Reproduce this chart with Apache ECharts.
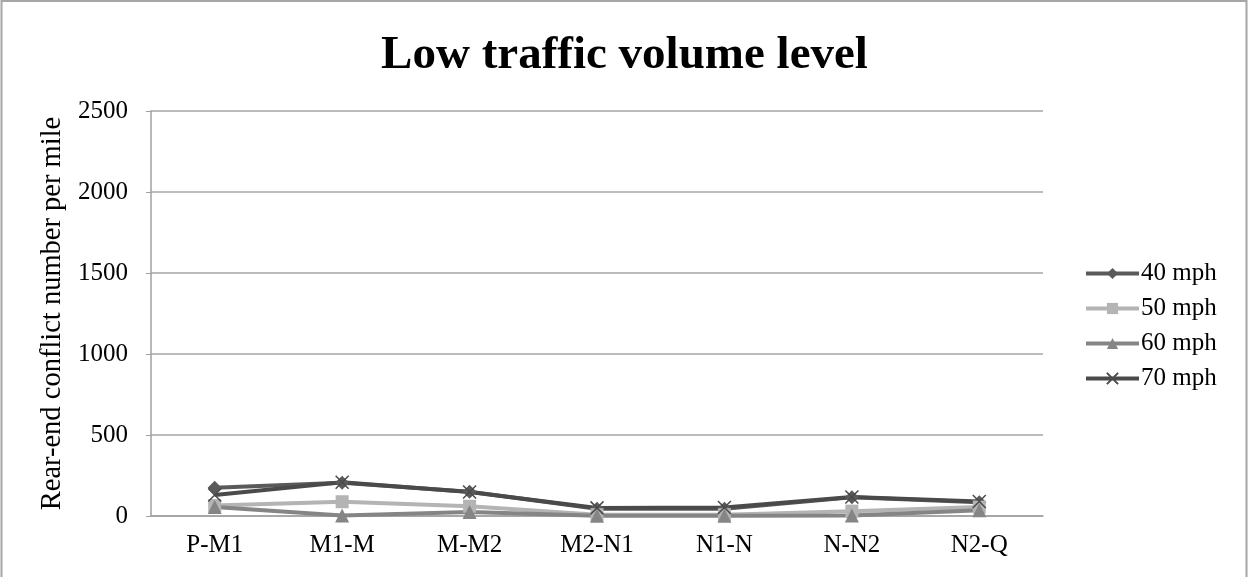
<!DOCTYPE html>
<html>
<head>
<meta charset="utf-8">
<script src="https://cdn.jsdelivr.net/npm/echarts@6/dist/echarts.min.js"></script>
<style>
  html, body { margin: 0; padding: 0; background: #fff; }
  #chart { width: 1249px; height: 577px; }
</style>
</head>
<body>
<div id="chart"></div>
<script>
// Road segments along the corridor
const segments = ['P-M1', 'M1-M', 'M-M2', 'M2-N1', 'N1-N', 'N-N2', 'N2-Q'];

// Rear-end conflicts per mile, by speed limit
const mph40 = [175, 205, 150, 45, 45, 115, 85];
const mph50 = [65, 88, 60, 8, 8, 30, 55];
const mph60 = [55, 3, 25, 2, 2, 3, 35];
const mph70 = [130, 208, 148, 50, 52, 117, 90];

const yTicks = [0, 500, 1000, 1500, 2000, 2500];

const serif = '"Liberation Serif", "Times New Roman", serif';

function line(name, data, color, symbol, size, extra) {
  return Object.assign({
    name: name,
    type: 'line',
    data: data,
    symbol: symbol,
    symbolSize: size,
    showSymbol: true,
    lineStyle: { color: color, width: 4 },
    itemStyle: { color: color },
    emphasis: { disabled: true },
    animation: false
  }, extra || {});
}

const chart = echarts.init(document.getElementById('chart'), null, { renderer: 'canvas' });
chart.setOption({
  backgroundColor: '#fff',
  title: {
    text: 'Low traffic volume level',
    left: 'center',
    top: 27,
    textStyle: { fontFamily: serif, fontSize: 47, fontWeight: 'bold', color: '#000' }
  },
  graphic: [{
    type: 'rect',
    shape: { x: 1.5, y: 1, width: 1245, height: 580 },
    style: { fill: 'none', stroke: '#a6a6a6', lineWidth: 2 },
    silent: true
  }],
  legend: {
    orient: 'vertical',
    left: 1079,
    top: 256,
    itemWidth: 53,
    itemHeight: 14,
    itemGap: 10,
    lineStyle: { width: 4 },
    textStyle: { fontFamily: serif, fontSize: 25, color: '#000', padding: [0, 0, 0, -3] },
    data: ['40 mph', '50 mph', '60 mph', '70 mph']
  },
  grid: { left: 151, top: 111, right: 206, bottom: 61 },
  xAxis: {
    type: 'category',
    data: segments,
    boundaryGap: true,
    axisLine: { lineStyle: { color: '#a0a0a0', width: 1.5 } },
    axisTick: { show: false },
    axisLabel: { fontFamily: serif, fontSize: 25, color: '#000', margin: 17 }
  },
  yAxis: {
    type: 'value',
    min: yTicks[0],
    max: yTicks[yTicks.length - 1],
    interval: 500,
    name: 'Rear-end conflict number per mile',
    nameLocation: 'middle',
    nameGap: 84,
    nameTextStyle: { fontFamily: serif, fontSize: 28.5, color: '#000' },
    axisLine: { show: true, lineStyle: { color: '#a0a0a0', width: 1.5 } },
    axisTick: { show: true, length: 5, lineStyle: { color: '#a0a0a0' } },
    axisLabel: { fontFamily: serif, fontSize: 25, color: '#000', margin: 23, formatter: v => String(v) },
    splitLine: { lineStyle: { color: '#a6a6a6', width: 1.5 } }
  },
  series: [
    line('40 mph', mph40, '#5a5a5a', 'diamond', 14),
    line('50 mph', mph50, '#b4b4b4', 'rect', 13),
    line('60 mph', mph60, '#858585', 'triangle', 14),
    line('70 mph', mph70, '#4a4a4a', 'path://M0,0L10,10M10,0L0,10', 13, {
      itemStyle: { color: 'none', borderColor: '#4a4a4a', borderWidth: 1.5 }
    })
  ]
});
</script>
</body>
</html>
